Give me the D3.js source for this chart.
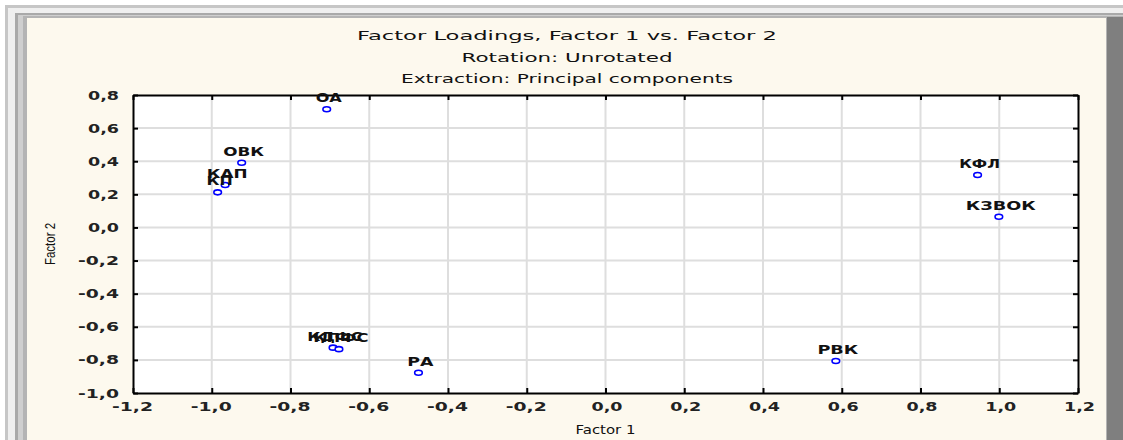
<!DOCTYPE html>
<html>
<head>
<meta charset="utf-8">
<script src="https://cdn.jsdelivr.net/npm/d3@7"></script>
<style>
  html, body { margin: 0; padding: 0; background: #ffffff; }
  svg { display: block; }
</style>
</head>
<body>
<svg id="chart" width="1123" height="440"></svg>
<script>
// Variable names and their loadings on the first two principal components
const variables = ["ОА", "ОВК", "КАП", "КП", "КДФС", "КПФС", "РА", "РВК", "КФЛ", "КЗВОК"];
const factor1 = [-0.708, -0.924, -0.966, -0.985, -0.692, -0.677, -0.475, 0.585, 0.945, 0.999];
const factor2 = [0.714, 0.391, 0.256, 0.212, -0.726, -0.735, -0.878, -0.807, 0.317, 0.065];

// Axis ticks
const xTicks = [-1.2, -1.0, -0.8, -0.6, -0.4, -0.2, 0.0, 0.2, 0.4, 0.6, 0.8, 1.0, 1.2];
const yTicks = [0.8, 0.6, 0.4, 0.2, 0.0, -0.2, -0.4, -0.6, -0.8, -1.0];

const titleLines = [
  "Factor Loadings, Factor 1 vs. Factor 2",
  "Rotation: Unrotated",
  "Extraction: Principal components"
];

(function draw() {
  const svg = d3.select("#chart");
  const W = 1123, H = 440;

  // Wide bitmap-style lettering: glyphs stretched to a set width
  function stretch(sel, widthFn) {
    sel.attr("textLength", widthFn).attr("lengthAdjust", "spacingAndGlyphs");
  }

  // Window frame
  const frame = svg.append("g");
  frame.append("rect").attr("x", 5).attr("y", 5).attr("width", W - 5).attr("height", H - 5).attr("fill", "#c6c6c6");
  frame.append("rect").attr("x", 8).attr("y", 8).attr("width", W - 8).attr("height", H - 8).attr("fill", "#efefef");
  frame.append("rect").attr("x", 15).attr("y", 13).attr("width", W - 15).attr("height", H - 13).attr("fill", "#a9a9a9");
  frame.append("rect").attr("x", 18).attr("y", 15).attr("width", W - 18).attr("height", H - 15).attr("fill", "#cfcfcf");
  frame.append("rect").attr("x", 23).attr("y", 16).attr("width", W - 23).attr("height", H - 16).attr("fill", "#b4b4b4");
  frame.append("rect").attr("x", 27).attr("y", 18).attr("width", 1106 - 27).attr("height", H - 18).attr("fill", "#fdf9ee");
  frame.append("rect").attr("x", 1107).attr("y", 17).attr("width", W - 1107).attr("height", H - 17).attr("fill", "#7f7f7f");

  // Plot area
  const pL = 133, pR = 1078, pT = 95, pB = 393;
  const x = d3.scaleLinear().domain([-1.2, 1.2]).range([pL, pR]);
  const y = d3.scaleLinear().domain([-1.0, 0.8]).range([pB, pT]);
  const fmt = v => d3.format(".1f")(v).replace(".", ",").replace("−", "-");

  svg.append("rect")
    .attr("x", pL).attr("y", pT)
    .attr("width", pR - pL).attr("height", pB - pT)
    .attr("fill", "#ffffff");

  // Grid
  const grid = svg.append("g").attr("stroke", "#dedede").attr("stroke-width", 2);
  grid.selectAll("line.vx").data(xTicks.slice(1, -1)).join("line")
    .attr("x1", d => x(d)).attr("x2", d => x(d))
    .attr("y1", pT).attr("y2", pB);
  grid.selectAll("line.hy").data(yTicks.slice(1, -1)).join("line")
    .attr("x1", pL).attr("x2", pR)
    .attr("y1", d => y(d)).attr("y2", d => y(d));

  // Axes with inward ticks on all four sides
  const tickFont = "DejaVu Sans, sans-serif";
  const tickWidth = s => (s.startsWith("-") ? 41 : 31);
  function styleAxis(g) {
    g.select(".domain").attr("stroke", "#000").attr("stroke-width", 2);
    g.selectAll(".tick line").attr("stroke", "#000").attr("stroke-width", 2);
  }
  const axB = svg.append("g").attr("transform", `translate(0,${pB})`)
    .call(d3.axisBottom(x).tickValues(xTicks).tickSizeInner(-5).tickSizeOuter(0).tickPadding(9).tickFormat(fmt));
  styleAxis(axB);
  axB.selectAll("text").attr("font-family", tickFont).attr("font-size", 12.5).attr("font-weight", "bold")
    .attr("fill", "#222").attr("dx", d => fmt(d).startsWith("-") ? "-1px" : "1px")
    .call(stretch, d => tickWidth(fmt(d)));

  const axT = svg.append("g").attr("transform", `translate(0,${pT})`)
    .call(d3.axisTop(x).tickValues(xTicks).tickSizeInner(-5).tickSizeOuter(0).tickFormat(""));
  styleAxis(axT);

  const axL = svg.append("g").attr("transform", `translate(${pL},0)`)
    .call(d3.axisLeft(y).tickValues(yTicks).tickSizeInner(-5).tickSizeOuter(0).tickPadding(14).tickFormat(fmt));
  styleAxis(axL);
  axL.selectAll("text").attr("font-family", tickFont).attr("font-size", 12.5).attr("font-weight", "bold")
    .attr("fill", "#222")
    .call(stretch, d => tickWidth(fmt(d)));

  const axR = svg.append("g").attr("transform", `translate(${pR},0)`)
    .call(d3.axisRight(y).tickValues(yTicks).tickSizeInner(-5).tickSizeOuter(0).tickFormat(""));
  styleAxis(axR);

  // Titles
  const titleWidths = [420, 211, 332];
  svg.append("g").selectAll("text").data(titleLines).join("text")
    .attr("x", 567).attr("y", (d, i) => 40 + i * 21.5)
    .attr("text-anchor", "middle")
    .attr("font-family", "DejaVu Sans, sans-serif").attr("font-size", 13)
    .attr("fill", "#111")
    .text(d => d)
    .call(stretch, (d, i) => titleWidths[i]);

  // Axis titles
  svg.append("text")
    .attr("x", (pL + pR) / 2).attr("y", 434)
    .attr("text-anchor", "middle")
    .attr("font-family", "DejaVu Sans, sans-serif").attr("font-size", 13)
    .attr("fill", "#111")
    .text("Factor 1")
    .call(stretch, 60);
  svg.append("text")
    .attr("transform", `translate(55,${(pT + pB) / 2}) rotate(-90)`)
    .attr("text-anchor", "middle")
    .attr("font-family", "Liberation Sans Narrow, Liberation Sans, sans-serif").attr("font-size", 14)
    .attr("fill", "#111")
    .text("Factor 2")
    .call(stretch, 42);

  // Points and labels
  const pts = variables.map((name, i) => ({ name, f1: factor1[i], f2: factor2[i] }));
  const pg = svg.append("g");
  pg.selectAll("ellipse").data(pts).join("ellipse")
    .attr("cx", d => x(d.f1)).attr("cy", d => y(d.f2))
    .attr("rx", 3.8).attr("ry", 2.5)
    .attr("fill", "#ffffff").attr("stroke", "#0000ff").attr("stroke-width", 1.6);
  pg.selectAll("text").data(pts).join("text")
    .attr("x", d => x(d.f1) + 2).attr("y", d => y(d.f2) - 7)
    .attr("text-anchor", "middle")
    .attr("font-family", "DejaVu Sans, sans-serif").attr("font-size", 12).attr("font-weight", "bold")
    .attr("fill", "#111")
    .text(d => d.name)
    .call(stretch, d => d.name.length * 14.6 - 3);
})();
</script>
</body>
</html>
